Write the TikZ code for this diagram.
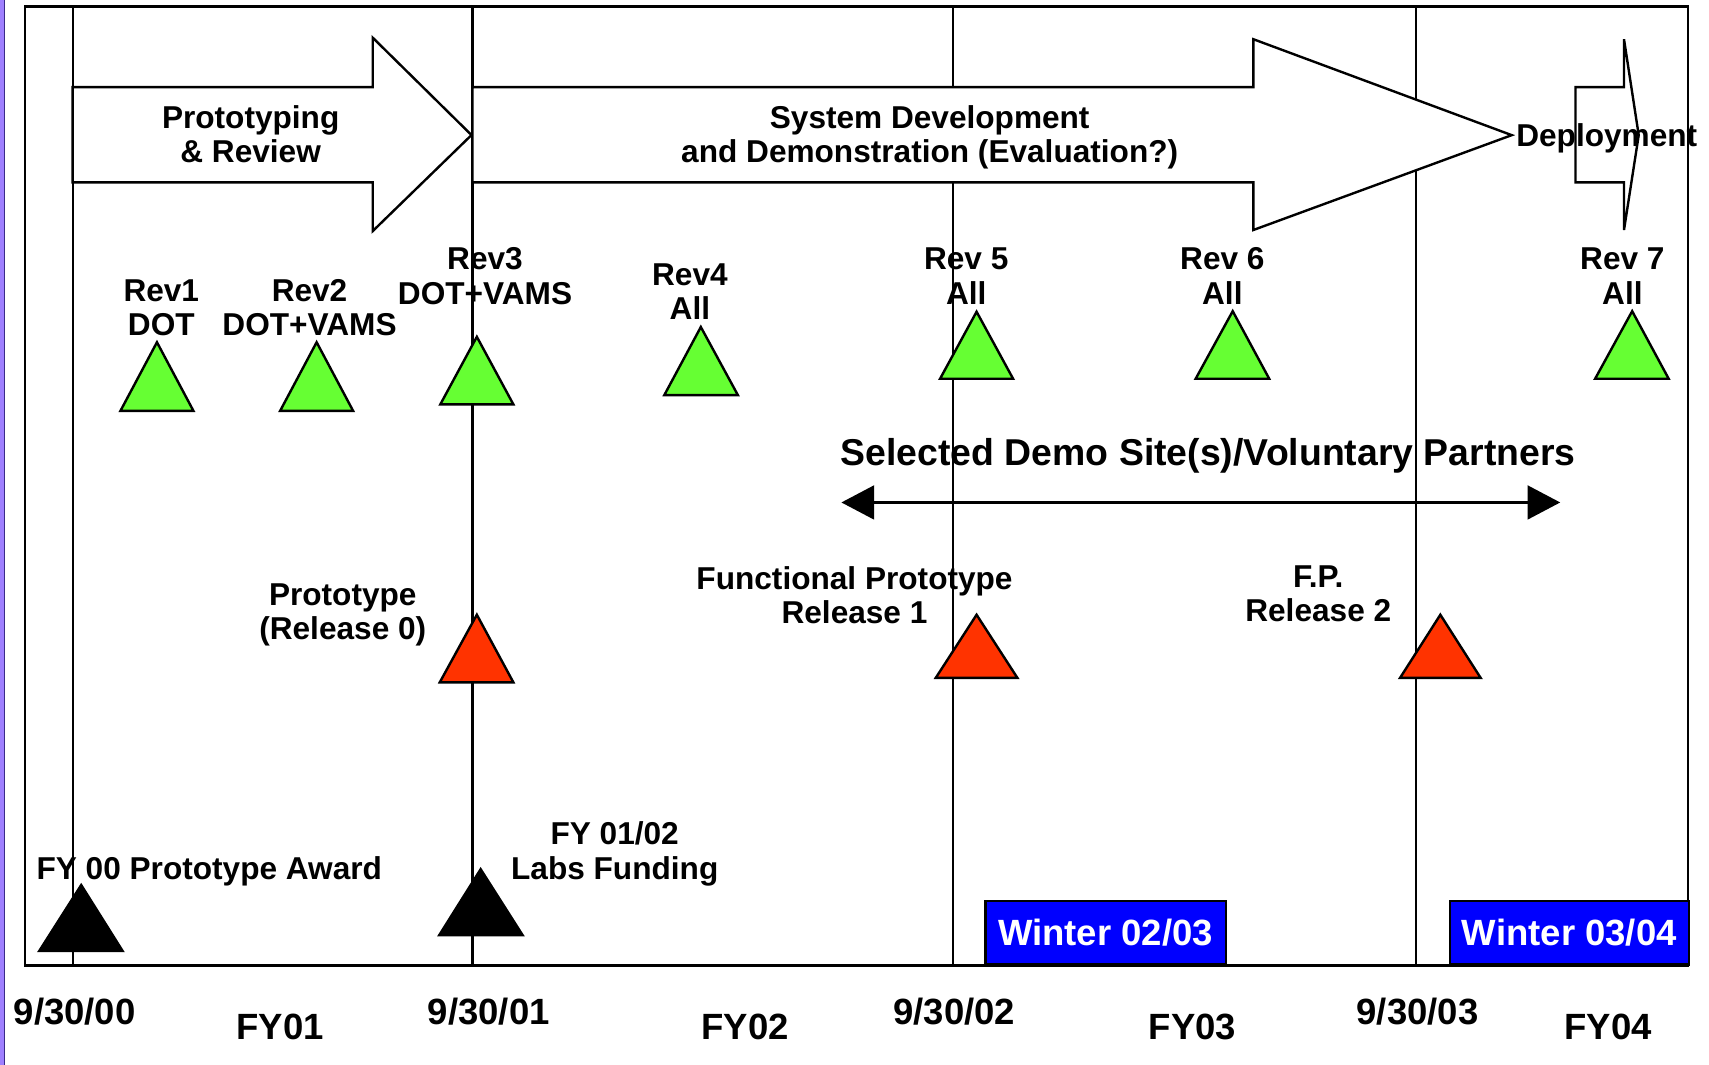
\documentclass[tikz,border=0pt]{standalone}
\usepackage{fontspec}
\setmainfont{Liberation Sans}
\usetikzlibrary{arrows.meta}
\definecolor{revgreen}{HTML}{66FF33}
\definecolor{relred}{HTML}{FF3300}
\definecolor{winblue}{HTML}{0000FF}
\definecolor{edgepurple}{HTML}{9F80FF}
\definecolor{edgedark}{HTML}{3A2A8A}
\tikzset{
  lbl/.style={font=\fontsize{29}{31.5}\selectfont\bfseries, inner sep=0pt, align=center, anchor=base},
  bigl/.style={font=\fontsize{33.5}{36}\selectfont\bfseries, inner sep=0pt, anchor=base},
  phase/.style={draw=black, fill=white, line width=2.2pt, line join=miter},
  tri/.style={draw=black, line width=2.2pt, line join=miter},
  yearline/.style={draw=black, line width=1.9pt},
  frame/.style={draw=black, line width=2.3pt},
  winbox/.style={draw=black, fill=winblue, line width=2.2pt, text=white, inner sep=0pt,
    font=\fontsize{33.5}{36}\selectfont\bfseries, anchor=south west},
  span/.style={line width=2.4pt, {Triangle[length=30pt,width=31pt]}-{Triangle[length=30pt,width=31pt]}}
}
\begin{document}
\begin{tikzpicture}[x=1pt,y=-1pt]
\path[use as bounding box] (0,0) rectangle (1568,977);
\fill[white] (0,0) rectangle (1568,977);
% left purple edge
\fill[edgepurple] (0,0) rectangle (4,977);
\draw[edgedark, line width=0.8pt] (4,0) -- (4,977);

% year lines
\draw[yearline] (66.7,6) -- (66.7,886);
\draw[yearline] (433.5,6) -- (433.5,886);
\draw[yearline] (874,6) -- (874,886);
\draw[yearline] (1299.5,6) -- (1299.5,886);

% phase arrows
\draw[phase] (66.7,80) -- (342,80) -- (342,34.6) -- (432.6,123.9) -- (342,212) -- (342,167.3) -- (66.7,167.3) -- cycle;
\draw[phase] (433.5,80) -- (1150,80) -- (1150,36) -- (1387,124) -- (1150,211) -- (1150,167.3) -- (433.5,167.3) -- cycle;
\draw[phase] (1445.5,80) -- (1490,80) -- (1490,36) -- (1503.5,124) -- (1490,211) -- (1490,167.3) -- (1445.5,167.3) -- cycle;

% frame
\draw[frame] (22.8,6) rectangle (1548.5,886);

% phase labels (base = last line)
\node[lbl] (ph1) at (230,149.5) {Prototyping\\\& Review};
\node[lbl] (ph2) at (853,149.5) {System Development\\and Demonstration (Evaluation?)};
\node[lbl, anchor=base west] (ph3) at (1391,134.5) {Deployment};

% review labels
\node[lbl] (r1) at (148,308) {Rev1\\DOT};
\node[lbl] (r2) at (284,308) {Rev2\\DOT+VAMS};
\node[lbl] (r3) at (445,279) {Rev3\\DOT+VAMS};
\node[lbl] (r4) at (633,293) {Rev4\\All};
\node[lbl] (r5) at (886.5,279) {Rev 5\\All};
\node[lbl] (r6) at (1121.5,279) {Rev 6\\All};
\node[lbl] (r7) at (1488.5,279) {Rev 7\\All};

% green review triangles
\draw[tri, fill=revgreen] (144,314) -- (177.5,377) -- (110.5,377) -- cycle;
\draw[tri, fill=revgreen] (290.5,314) -- (324,377) -- (257,377) -- cycle;
\draw[tri, fill=revgreen] (437.5,309) -- (471,371) -- (404,371) -- cycle;
\draw[tri, fill=revgreen] (643,300) -- (677,362.5) -- (609.5,362.5) -- cycle;
\draw[tri, fill=revgreen] (896,286) -- (929.5,347.5) -- (862.5,347.5) -- cycle;
\draw[tri, fill=revgreen] (1131,285.5) -- (1164.5,347.5) -- (1097,347.5) -- cycle;
\draw[tri, fill=revgreen] (1497.5,285.5) -- (1531,347.5) -- (1463.5,347.5) -- cycle;

% demo sites
\node[bigl, font=\fontsize{34.3}{36}\selectfont\bfseries] (demo) at (1108.5,427) {Selected Demo Site(s)/Voluntary Partners};
\coordinate (dl) at (772,461);
\coordinate (dr) at (1431.5,461);
\draw[span] (dl) -- (dr);

% releases
\node[lbl] (rel0) at (314.5,587) {Prototype\\(Release 0)};
\node[lbl] (rel1) at (784,572) {Functional Prototype\\Release 1};
\node[lbl] (rel2) at (1209.5,570.5) {F.P.\\Release 2};
\draw[tri, fill=relred] (437.5,564) -- (471,626) -- (403.5,626) -- cycle;
\draw[tri, fill=relred] (896,564) -- (933.5,622) -- (858.5,622) -- cycle;
\draw[tri, fill=relred] (1321.5,564) -- (1358.5,622) -- (1284.5,622) -- cycle;

% funding
\node[lbl] (fund0) at (192,806.5) {FY 00 Prototype Award};
\node[lbl] (fund1) at (564,806.5) {FY 01/02\\Labs Funding};
\draw[tri, fill=black] (74.5,812) -- (112.5,872.5) -- (36,872.5) -- cycle;
\draw[tri, fill=black] (441,797.5) -- (479.5,858) -- (403,858) -- cycle;

% winters
\node[winbox, minimum width=220.5pt, minimum height=58.5pt] (w1) at (903,886) {Winter 02/03};
\node[winbox, minimum width=219.5pt, minimum height=58.5pt] (w2) at (1329,886) {Winter 03/04};

% axis labels
\node[bigl] (d0) at (68.5,940) {9/30/00};
\node[bigl] (fy1) at (257,954) {FY01};
\node[bigl] (d1) at (448.5,940) {9/30/01};
\node[bigl] (fy2) at (683.5,954) {FY02};
\node[bigl] (d2) at (875.5,940) {9/30/02};
\node[bigl] (fy3) at (1094,954) {FY03};
\node[bigl] (d3) at (1300.5,940) {9/30/03};
\node[bigl] (fy4) at (1475.5,954) {FY04};
\end{tikzpicture}
\end{document}
